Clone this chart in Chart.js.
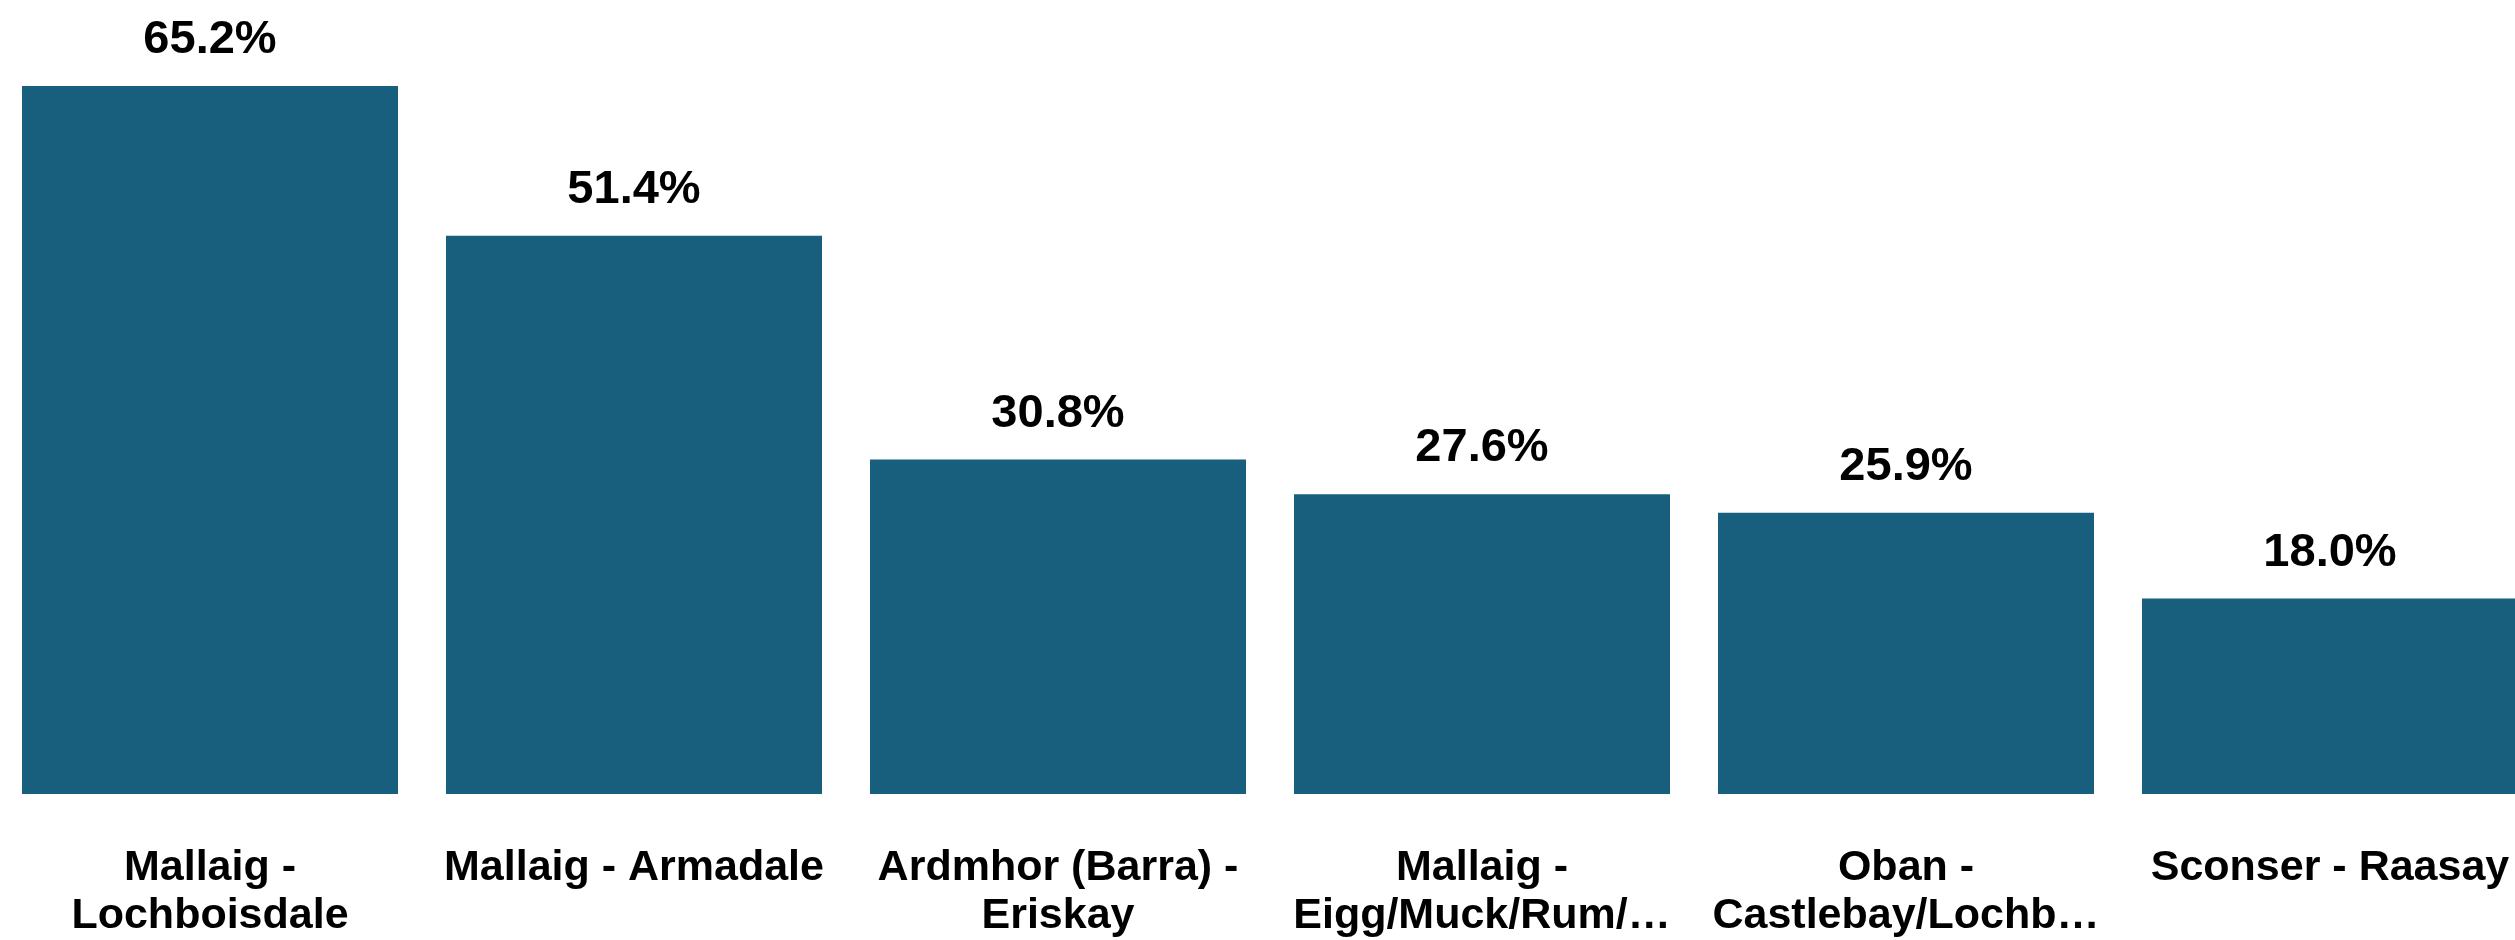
<!DOCTYPE html>
<html>
<head>
<meta charset="utf-8">
<script src="https://cdn.jsdelivr.net/npm/chart.js@4/dist/chart.umd.min.js"></script>
<style>
  html, body { margin: 0; padding: 0; background: #ffffff; overflow: hidden; }
  #c { position: absolute; left: -2px; top: 0; }
</style>
</head>
<body>
<canvas id="c" width="2544" height="940" style="width:2544px;height:940px;"></canvas>
<script>
const categories = [
  ["Mallaig -", "Lochboisdale"],
  "Mallaig - Armadale",
  ["Ardmhor (Barra) -", "Eriskay"],
  ["Mallaig -", "Eigg/Muck/Rum/\u2026"],
  ["Oban -", "Castlebay/Lochb\u2026"],
  "Sconser - Raasay"
];
const values = [65.2, 51.4, 30.8, 27.6, 25.9, 18.0];
const valueLabels = ["65.2%", "51.4%", "30.8%", "27.6%", "25.9%", "18.0%"];

const barColor = "#185E7D";

const valueLabelPlugin = {
  id: "valueLabels",
  afterDatasetsDraw(chart) {
    const ctx = chart.ctx;
    const meta = chart.getDatasetMeta(0);
    ctx.save();
    ctx.font = "bold 47px 'Liberation Sans', Arial, sans-serif";
    ctx.fillStyle = "#000000";
    ctx.textAlign = "center";
    ctx.textBaseline = "alphabetic";
    meta.data.forEach((bar, i) => {
      ctx.fillText(valueLabels[i], bar.x, bar.y - 33);
    });
    ctx.restore();
  }
};

new Chart(document.getElementById("c"), {
  type: "bar",
  data: {
    labels: categories,
    datasets: [{
      data: values,
      backgroundColor: barColor,
      borderWidth: 0,
      barPercentage: 376 / 424,
      categoryPercentage: 1.0
    }]
  },
  options: {
    responsive: false,
    maintainAspectRatio: false,
    devicePixelRatio: 1,
    animation: false,
    layout: { padding: { top: 86, left: 0, right: 0, bottom: 0 } },
    plugins: { legend: { display: false }, tooltip: { enabled: false } },
    scales: {
      x: {
        grid: { display: false, drawTicks: false },
        border: { display: false },
        ticks: {
          color: "#000000",
          padding: 50,
          maxRotation: 0,
          autoSkip: false,
          font: { family: "'Liberation Sans', Arial, sans-serif", size: 43, weight: "bold", lineHeight: 1.12 }
        },
        afterFit(scale) {
          scale.height = 146;
          scale.paddingLeft = 0;
          scale.paddingRight = 0;
        }
      },
      y: {
        display: false,
        min: 0,
        max: 65.2
      }
    }
  },
  plugins: [valueLabelPlugin]
});
</script>
</body>
</html>
